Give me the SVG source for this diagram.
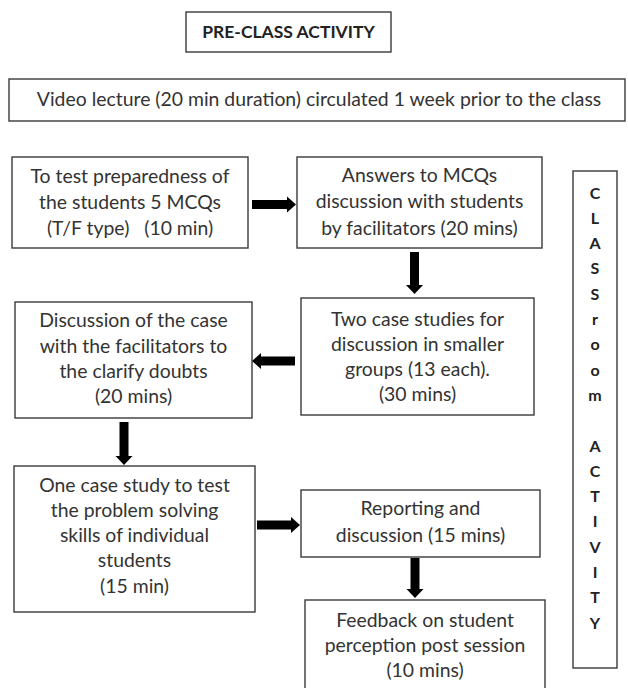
<svg xmlns="http://www.w3.org/2000/svg" width="628" height="688" viewBox="0 0 628 688">
<style>
.box{fill:#fff;stroke:#3a3a3a;stroke-width:1.4}
.t{font-family:Lato,"Open Sans","Liberation Sans",sans-serif;font-size:19.4px;fill:#333;text-anchor:middle}
.b{font-family:Lato,"Liberation Sans",sans-serif;font-weight:bold;font-size:17.5px;fill:#222;text-anchor:middle}
.c{font-family:Lato,"Liberation Sans",sans-serif;font-weight:bold;font-size:16px;fill:#222;text-anchor:middle}
.arr{fill:#000}
</style>
<rect width="628" height="688" fill="#fff"/>
<g id="pre-class">
<rect class="box" x="186" y="12" width="205" height="40"/>
<text class="b" x="288.5" y="38">PRE-CLASS ACTIVITY</text>
</g>
<g id="video">
<rect class="box" x="9" y="79" width="616" height="42"/>
<text class="t" x="319" y="106">Video lecture (20 min duration) circulated 1 week prior to the class</text>
</g>
<g id="test-prep">
<rect class="box" x="12" y="157" width="236" height="91"/>
<text class="t" x="130" y="183">To test preparedness of</text>
<text class="t" x="130" y="209">the students 5 MCQs</text>
<text class="t" x="130" y="235" xml:space="preserve">(T/F type)   (10 min)</text>
</g>
<g id="answers">
<rect class="box" x="297" y="157" width="245" height="91"/>
<text class="t" x="419.5" y="182">Answers to MCQs</text>
<text class="t" x="419.5" y="208">discussion with students</text>
<text class="t" x="419.5" y="235">by facilitators (20 mins)</text>
</g>
<g id="two-case">
<rect class="box" x="301" y="298" width="233" height="117"/>
<text class="t" x="417.5" y="326">Two case studies for</text>
<text class="t" x="417.5" y="351">discussion in smaller</text>
<text class="t" x="417.5" y="376">groups (13 each).</text>
<text class="t" x="417.5" y="401">(30 mins)</text>
</g>
<g id="discussion">
<rect class="box" x="15" y="302" width="237" height="116"/>
<text class="t" x="133.5" y="327">Discussion of the case</text>
<text class="t" x="133.5" y="353">with the facilitators to</text>
<text class="t" x="133.5" y="378">the clarify doubts</text>
<text class="t" x="133.5" y="403">(20 mins)</text>
</g>
<g id="one-case">
<rect class="box" x="14" y="466" width="241" height="146"/>
<text class="t" x="134.5" y="492">One case study to test</text>
<text class="t" x="134.5" y="517">the problem solving</text>
<text class="t" x="134.5" y="542">skills of individual</text>
<text class="t" x="134.5" y="567">students</text>
<text class="t" x="134.5" y="593">(15 min)</text>
</g>
<g id="reporting">
<rect class="box" x="301" y="490" width="239" height="67"/>
<text class="t" x="420.5" y="515">Reporting and</text>
<text class="t" x="420.5" y="542">discussion (15 mins)</text>
</g>
<g id="feedback">
<rect class="box" x="305" y="600" width="240" height="100"/>
<text class="t" x="425" y="627">Feedback on student</text>
<text class="t" x="425" y="652">perception post session</text>
<text class="t" x="425" y="677">(10 mins)</text>
</g>
<g id="classroom-activity">
<rect class="box" x="573" y="171" width="44" height="497"/>
<text class="c" x="595" y="198.5">C</text>
<text class="c" x="595" y="223.8">L</text>
<text class="c" x="595" y="249.1">A</text>
<text class="c" x="595" y="274.4">S</text>
<text class="c" x="595" y="299.7">S</text>
<text class="c" x="595" y="325">r</text>
<text class="c" x="595" y="350.3">o</text>
<text class="c" x="595" y="375.6">o</text>
<text class="c" x="595" y="400.9">m</text>
<text class="c" x="595" y="451.5">A</text>
<text class="c" x="595" y="476.8">C</text>
<text class="c" x="595" y="502.1">T</text>
<text class="c" x="595" y="527.4">I</text>
<text class="c" x="595" y="552.7">V</text>
<text class="c" x="595" y="578">I</text>
<text class="c" x="595" y="603.3">T</text>
<text class="c" x="595" y="628.6">Y</text>
</g>
<g id="connectors">
<polygon class="arr" points="252,200 287,200 287,196.5 296,204.5 287,212.5 287,209 252,209"/>
<polygon class="arr" points="410,252 419,252 419,285 423,285 414.5,294 406,285 410,285"/>
<polygon class="arr" points="295,356.5 261,356.5 261,353 252,361 261,369 261,365.5 295,365.5"/>
<polygon class="arr" points="119.5,422 128.5,422 128.5,456 132.5,456 124,465 115.5,456 119.5,456"/>
<polygon class="arr" points="257,520.5 291,520.5 291,517 300,525 291,533 291,529.5 257,529.5"/>
<polygon class="arr" points="410.5,558 419.5,558 419.5,589 423.5,589 415,598 406.5,589 410.5,589"/>
</g>
</svg>
